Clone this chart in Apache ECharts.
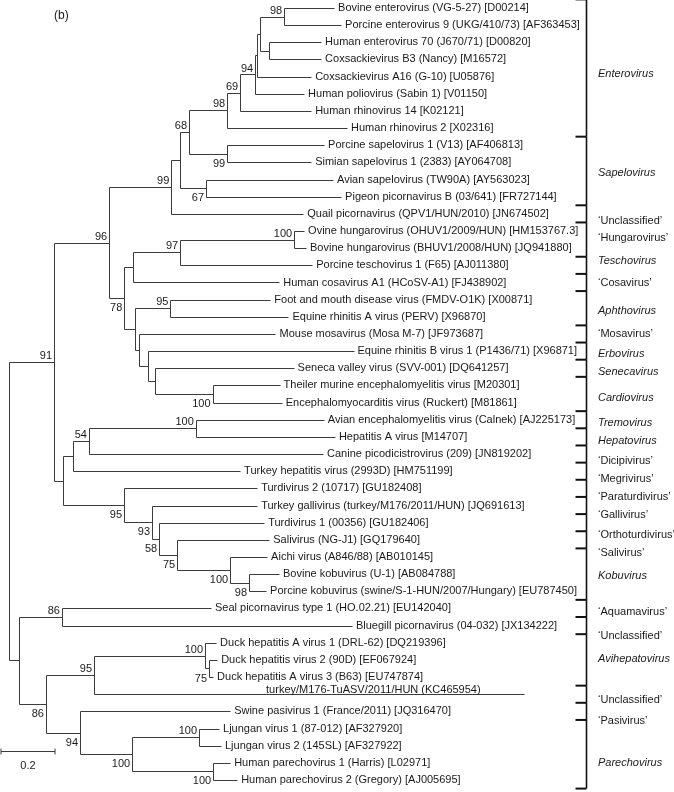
<!DOCTYPE html>
<html><head><meta charset="utf-8">
<script src="https://cdn.jsdelivr.net/npm/echarts@6/dist/echarts.min.js"></script>
<style>html,body{margin:0;padding:0;background:#fff;}#c{width:674px;height:792px;}</style>
</head><body><div id="c"></div>
<script>
// ---------------- DATA ----------------
const leafNames = [
 'Bovine enterovirus (VG-5-27) [D00214]',
 'Porcine enterovirus 9 (UKG/410/73) [AF363453]',
 'Human enterovirus 70 (J670/71) [D00820]',
 'Coxsackievirus B3 (Nancy) [M16572]',
 'Coxsackievirus A16 (G-10) [U05876]',
 'Human poliovirus (Sabin 1) [V01150]',
 'Human rhinovirus 14 [K02121]',
 'Human rhinovirus 2 [X02316]',
 'Porcine sapelovirus 1 (V13) [AF406813]',
 'Simian sapelovirus 1 (2383) [AY064708]',
 'Avian sapelovirus (TW90A) [AY563023]',
 'Pigeon picornavirus B (03/641) [FR727144]',
 'Quail picornavirus (QPV1/HUN/2010) [JN674502]',
 'Ovine hungarovirus (OHUV1/2009/HUN) [HM153767.3]',
 'Bovine hungarovirus (BHUV1/2008/HUN) [JQ941880]',
 'Porcine teschovirus 1 (F65) [AJ011380]',
 'Human cosavirus A1 (HCoSV-A1) [FJ438902]',
 'Foot and mouth disease virus (FMDV-O1K) [X00871]',
 'Equine rhinitis A virus (PERV) [X96870]',
 'Mouse mosavirus (Mosa M-7) [JF973687]',
 'Equine rhinitis B virus 1 (P1436/71) [X96871]',
 'Seneca valley virus (SVV-001) [DQ641257]',
 'Theiler murine encephalomyelitis virus [M20301]',
 'Encephalomyocarditis virus (Ruckert) [M81861]',
 'Avian encephalomyelitis virus (Calnek) [AJ225173]',
 'Hepatitis A virus [M14707]',
 'Canine picodicistrovirus (209) [JN819202]',
 'Turkey hepatitis virus (2993D) [HM751199]',
 'Turdivirus 2 (10717) [GU182408]',
 'Turkey gallivirus (turkey/M176/2011/HUN) [JQ691613]',
 'Turdivirus 1 (00356) [GU182406]',
 'Salivirus (NG-J1) [GQ179640]',
 'Aichi virus (A846/88) [AB010145]',
 'Bovine kobuvirus (U-1) [AB084788]',
 'Porcine kobuvirus (swine/S-1-HUN/2007/Hungary) [EU787450]',
 'Seal picornavirus type 1 (HO.02.21) [EU142040]',
 'Bluegill picornavirus (04-032) [JX134222]',
 'Duck hepatitis A virus 1 (DRL-62) [DQ219396]',
 'Duck hepatitis virus 2 (90D) [EF067924]',
 'Duck hepatitis A virus 3 (B63) [EU747874]',
 'turkey/M176-TuASV/2011/HUN (KC465954)',
 'Swine pasivirus 1 (France/2011) [JQ316470]',
 'Ljungan virus 1 (87-012) [AF327920]',
 'Ljungan virus 2 (145SL) [AF327922]',
 'Human parechovirus 1 (Harris) [L02971]',
 'Human parechovirus 2 (Gregory) [AJ005695]'
];

// Tree topology: leaves referenced by index into leafNames, internal labels = bootstrap support, :branch length
const treeNewick = `
(((((((((((
 (0:0.185,1:0.211)98:0.089,(2:0.193,3:0.193):0.033):0.011,4:0.2):0.007,5:0.181)94:0.056,6:0.263)69:0.048,7:0.444)98:0.141,
 (8:0.359,9:0.311)99:0.141)68:0.033,
 (10:0.47,11:0.5)67:0.096):0.033,
 12:0.489)99:0.23,
 ((((13:0.037,14:0.044)100:0.422,15:0.489)97:0.174,16:0.541):0.033,
  ((17:0.37,18:0.437)95:0.13,(19:0.504,(20:0.763,(21:0.515,(22:0.248,23:0.256)100:0.215):0.026):0.03):0.015):0.041)78:0.056
 )96:0.204,
 ((((24:0.474,25:0.515)100:0.396,26:0.867)54:0.059,27:0.619):0.037,
  (28:0.493,(29:0.389,(30:0.389,(31:0.341,(32:0.137,(33:0.111,34:0.063)98:0.07)100:0.196)75:0.067)58:0.026)93:0.104)95:0.226
 ):0.033
)91:0.167,
((35:0.552,36:1.074)86:0.159,
 (((37:0.041,(38:0.03,39:0.015)75:0.015)100:0.411,40:1.593)95:0.178,
  (41:0.556,((42:0.074,43:0.081)100:0.248,(44:0.063,45:0.089)100:0.3)100:0.193)94:0.126)86:0.1
):0.037
);`;

const groupNames = ['Enterovirus','Sapelovirus','\u2018Unclassified\u2019','\u2018Hungarovirus\u2019','Teschovirus',
 '\u2018Cosavirus\u2019','Aphthovirus','\u2018Mosavirus\u2019','Erbovirus','Senecavirus','Cardiovirus','Tremovirus',
 'Hepatovirus','\u2018Dicipivirus\u2019','\u2018Megrivirus\u2019','\u2018Paraturdivirus\u2019','\u2018Gallivirus\u2019',
 '\u2018Orthoturdivirus\u2019','\u2018Salivirus\u2019','Kobuvirus','\u2018Aquamavirus\u2019','\u2018Unclassified\u2019',
 'Avihepatovirus','\u2018Unclassified\u2019','\u2018Pasivirus\u2019','Parechovirus'];
const groupSizes = [8,4,1,2,1,1,2,1,1,1,2,1,1,1,1,1,1,1,1,3,1,1,3,1,1,4];

const scaleBarValue = 0.2;
const scaleBarLabel = '0.2';
const panelLabel = '(b)';

// ---------------- LAYOUT (not data) ----------------
const belowSupport = ['8-9','10-11','13-23','22-23','28-34','29-34','30-34','31-34','32-34','33-34',
 '38-39','37-45','41-45','42-45','44-45'];
// vertical placement of the group names, in leaf-row units (as hand-placed in the figure)
const groupLabelRow = [3.85,9.62,12.42,13.41,14.75,16.03,17.66,19.0,20.17,21.22,22.73,24.19,25.24,26.4,
 27.45,28.5,29.55,30.72,31.77,33.1,35.21,36.6,37.95,40.34,41.56,44.0];
const overBranchLabel = {40: 0.952};   // label written over its own long branch
const FONT = '"Liberation Sans", Arial, Helvetica, sans-serif';
const LINE = '#3c3c3c';
const TXT = '#1a1a1a';
const bracketX = 586.5, tickLen = 11, groupLabelX = 598;
const scaleBarX = 1, scaleBarY = 751.5;

// ---------------- BUILD ----------------
function parseNewick(str){
  const s = str.replace(/\s+/g,''); let i = 0;
  function node(){
    const n = {children:[], label:'', len:0};
    if (s[i] === '('){ i++; n.children.push(node()); while (s[i] === ','){ i++; n.children.push(node()); } i++; }
    let lab=''; while (i < s.length && ':,();'.indexOf(s[i]) < 0) lab += s[i++];
    n.label = lab;
    if (s[i] === ':'){ i++; let num=''; while (i < s.length && ',();'.indexOf(s[i]) < 0) num += s[i++]; n.len = parseFloat(num); }
    return n;
  }
  return node();
}
const root = parseNewick(treeNewick);
function lay(n, px){
  n.x = px + n.len;
  if (!n.children.length){ n.leaf = +n.label; n.y = n.leaf; n.lo = n.hi = n.leaf; }
  else {
    n.children.forEach(c => lay(c, n.x));
    const f = n.children[0], l = n.children[n.children.length-1];
    n.y = (f.y + l.y)/2; n.lo = f.lo; n.hi = l.hi;
  }
}
lay(root, 0);
const segs = [], tips = [], supports = [];
function collect(n, parent){
  if (parent) segs.push([parent.x, n.y, n.x, n.y]);
  if (n.children.length){
    const f = n.children[0], l = n.children[n.children.length-1];
    segs.push([n.x, f.y, n.x, l.y]);
    if (n.label) supports.push([n.x, n.y, +n.label, belowSupport.indexOf(n.lo+'-'+n.hi) >= 0 ? 1 : 0]);
    n.children.forEach(c => collect(c, n));
  } else tips.push([n.x, n.y, n.leaf]);
}
collect(root, null);

const groups = []; let start = 0;
groupSizes.forEach((sz, k) => { groups.push([start, start + sz - 1, k]); start += sz; });

const snap = v => Math.round(v) + 0.5;

const chart = echarts.init(document.getElementById('c'));
chart.setOption({
  animation: false,
  backgroundColor: '#fff',
  grid: {left: 9, right: 0, top: 8, bottom: 12},
  xAxis: {type: 'value', min: 0, max: 665/270, show: false},
  yAxis: {type: 'value', min: 0, max: leafNames.length - 1, inverse: true, show: false},
  graphic: [{type: 'text', left: 54, top: 10, style: {text: panelLabel, font: '12px ' + FONT, fill: TXT}}],
  series: [
    { type: 'custom', silent: true, clip: false, data: segs, encode: {x: [0,2], y: [1,3]},
      renderItem: (p, api) => {
        const a = api.coord([api.value(0), api.value(1)]), b = api.coord([api.value(2), api.value(3)]);
        return {type: 'line', shape: {x1: snap(a[0]), y1: snap(a[1]), x2: snap(b[0]), y2: snap(b[1])},
                style: {stroke: LINE, lineWidth: 1}};
      } },
    { type: 'custom', silent: true, clip: false, data: tips, encode: {x: 0, y: 1},
      renderItem: (p, api) => {
        const idx = api.value(2);
        const pt = api.coord([api.value(0), api.value(1)]);
        if (overBranchLabel[idx] !== undefined){
          const q = api.coord([overBranchLabel[idx], api.value(1)]);
          return {type: 'text', x: q[0], y: q[1] + 1,
            style: {text: leafNames[idx], font: '11px ' + FONT, fill: TXT, align: 'left', verticalAlign: 'bottom'}};
        }
        return {type: 'text', x: pt[0] + 4, y: pt[1],
          style: {text: leafNames[idx], font: '11px ' + FONT, fill: TXT, align: 'left', verticalAlign: 'middle'}};
      } },
    { type: 'custom', silent: true, clip: false, data: supports, encode: {x: 0, y: 1},
      renderItem: (p, api) => {
        const pt = api.coord([api.value(0), api.value(1)]);
        const below = api.value(3) === 1;
        return {type: 'text', x: pt[0] - 2, y: pt[1] + (below ? 10 : -6),
          style: {text: String(api.value(2)), font: '11px ' + FONT, fill: TXT, align: 'right', verticalAlign: 'middle'}};
      } },
    { type: 'custom', silent: true, clip: false, data: groups, encode: {y: [0,1]},
      renderItem: (p, api) => {
        const s = api.value(0), e = api.value(1), k = api.value(2);
        const yTop = api.coord([0, s - 0.5])[1], yBot = api.coord([0, e + 0.5])[1];
        const yLab = api.coord([0, groupLabelRow[k]])[1];
        const name = groupNames[k];
        const italic = name.charAt(0) !== '\u2018';
        const children = [
          {type: 'line', shape: {x1: bracketX - tickLen, y1: yTop, x2: bracketX, y2: yTop}, style: {stroke: '#111', lineWidth: 2}},
          {type: 'line', shape: {x1: bracketX, y1: yTop, x2: bracketX, y2: yBot}, style: {stroke: '#111', lineWidth: 1.6}},
          {type: 'text', x: groupLabelX, y: yLab, style: {text: name, font: (italic ? 'italic ' : '') + '11px ' + FONT,
            fill: TXT, align: 'left', verticalAlign: 'middle'}}
        ];
        if (k === groupSizes.length - 1)
          children.push({type: 'line', shape: {x1: bracketX - tickLen, y1: yBot, x2: bracketX, y2: yBot}, style: {stroke: '#111', lineWidth: 2}});
        return {type: 'group', children};
      } },
    { type: 'custom', silent: true, clip: false, data: [[0, 0]], encode: {x: 0, y: 1},
      renderItem: (p, api) => {
        const len = api.size([scaleBarValue, 0])[0];
        const x0 = scaleBarX, x1 = scaleBarX + len, y = scaleBarY;
        return {type: 'group', children: [
          {type: 'line', shape: {x1: x0, y1: y, x2: x1, y2: y}, style: {stroke: LINE, lineWidth: 1}},
          {type: 'line', shape: {x1: x0, y1: y - 3, x2: x0, y2: y + 3}, style: {stroke: LINE, lineWidth: 1}},
          {type: 'line', shape: {x1: x1, y1: y - 3, x2: x1, y2: y + 3}, style: {stroke: LINE, lineWidth: 1}},
          {type: 'text', x: (x0 + x1)/2, y: y + 14, style: {text: scaleBarLabel, font: '11px ' + FONT, fill: TXT, align: 'center', verticalAlign: 'middle'}}
        ]};
      } }
  ]
});
</script>
</body></html>
